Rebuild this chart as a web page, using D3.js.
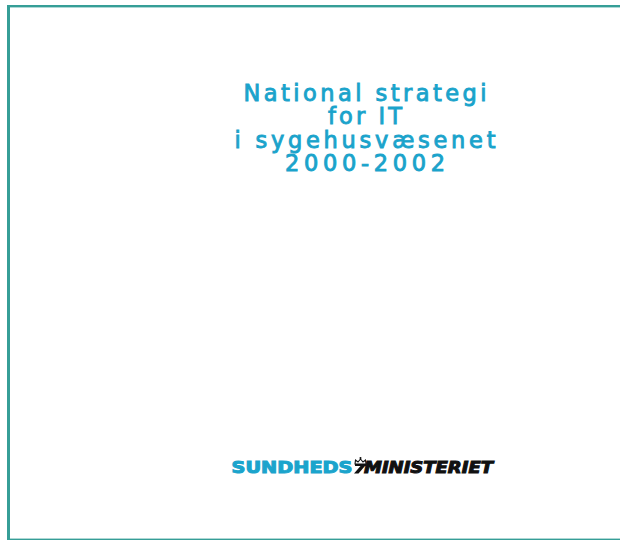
<!DOCTYPE html>
<html>
<head>
<meta charset="utf-8">
<script src="https://cdn.jsdelivr.net/npm/d3@7"></script>
<style>
  html, body { margin: 0; padding: 0; background: #ffffff; }
  svg { display: block; }
</style>
</head>
<body>
<script>
// ---- content ----
const titleLines = ["National strategi", "for IT", "i sygehusvæsenet", "2000-2002"];
const titleWidths = [243, 74, 261, 160];          // measured ink widths (px)
const logoWords = ["SUNDHEDS", "MINISTERIET"];

// ---- layout ----
const W = 620, H = 540;
const teal = "#369e97";
const cyan = "#1aa3cb";

const svg = d3.select("body").append("svg")
  .attr("width", W).attr("height", H);

// frame: left bar, top bar, thin bottom rule
svg.append("rect").attr("x", 7).attr("y", 5).attr("width", 3).attr("height", H - 5).attr("fill", teal);
svg.append("rect").attr("x", 7).attr("y", 5).attr("width", W - 7).attr("height", 2.4).attr("fill", teal);
svg.append("rect").attr("x", 7).attr("y", 538.6).attr("width", W - 7).attr("height", 1.4).attr("fill", teal);

// title
const cx = 365;
const y = d3.scaleLinear().domain([0, 3]).range([100.7, 171]);
svg.append("g")
  .selectAll("text")
  .data(titleLines)
  .join("text")
  .attr("x", cx)
  .attr("y", (d, i) => y(i))
  .attr("text-anchor", "middle")
  .attr("textLength", (d, i) => titleWidths[i])
  .attr("lengthAdjust", "spacing")
  .attr("font-family", "'DejaVu Sans', Verdana, sans-serif")
  .attr("font-size", 22.5)
  .attr("fill", cyan)
  .attr("stroke", cyan).attr("stroke-width", 0.9)
  .text(d => d);

// logo
const logo = svg.append("g");
logo.append("text")
  .attr("x", 231.5).attr("y", 473.2)
  .attr("textLength", 121).attr("lengthAdjust", "spacingAndGlyphs")
  .attr("font-family", "'DejaVu Sans', Verdana, sans-serif")
  .attr("font-weight", "bold")
  .attr("font-size", 15)
  .attr("fill", "#1ba4cc").attr("stroke", "#1ba4cc").attr("stroke-width", 1)
  .text(logoWords[0]);

logo.append("text")
  .attr("x", 364).attr("y", 473.2)
  .attr("textLength", 129).attr("lengthAdjust", "spacingAndGlyphs")
  .attr("font-family", "'DejaVu Sans', Verdana, sans-serif")
  .attr("font-weight", "bold")
  .attr("font-style", "italic")
  .attr("font-size", 15)
  .attr("fill", "#111").attr("stroke", "#111").attr("stroke-width", 1)
  .text(logoWords[1]);

// slanted lead-in stroke before the M
logo.append("path")
  .attr("d", "M354,473.5 L358.5,473.5 L365,466 L360.5,466 Z")
  .attr("fill", "#111");

// small crown
const crown = logo.append("g").attr("transform", "translate(354,457)");
crown.append("path")
  .attr("d", "M1,7 L1.5,3 L4,5 L6.5,2 L9,5 L11.5,3 L12,7 Z")
  .attr("fill", "#fff").attr("stroke", "#111").attr("stroke-width", 1.1);
crown.append("rect").attr("x", 1).attr("y", 7).attr("width", 11).attr("height", 2).attr("fill", "#111");
crown.append("path").attr("d", "M6.5,0 L6.5,2.2 M5.3,1 L7.7,1").attr("stroke", "#111").attr("stroke-width", 0.9);
</script>
</body>
</html>
